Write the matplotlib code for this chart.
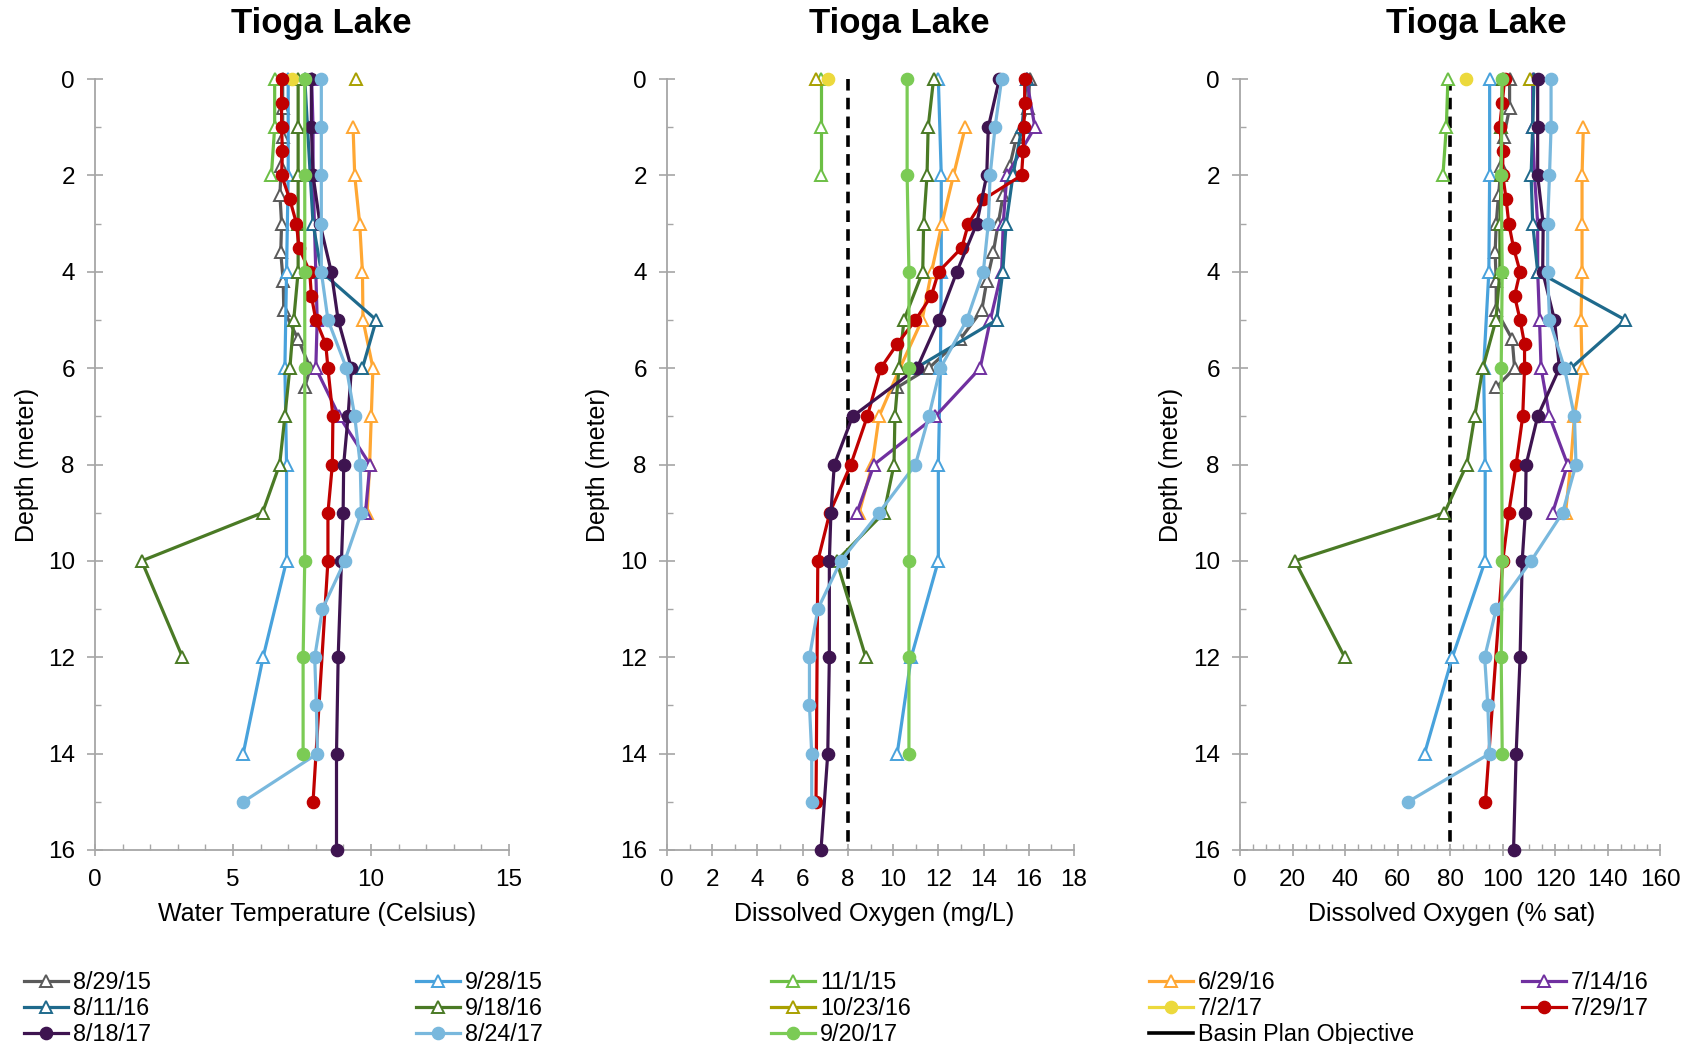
import matplotlib
matplotlib.use("Agg")
import matplotlib.pyplot as plt
from matplotlib.lines import Line2D
from matplotlib.ticker import MultipleLocator
import numpy as np

plt.rcParams['font.family'] = ['Liberation Sans', 'DejaVu Sans']

# survey dates, in legend order
dates = ['8/29/15', '9/28/15', '11/1/15', '6/29/16', '7/14/16', '8/11/16', '9/18/16',
         '10/23/16', '7/2/17', '7/29/17', '8/18/17', '8/24/17', '9/20/17']

# depth (m) of each profile point
depth = {
    '8/29/15': [0, 0.6, 1.2, 1.8, 2.4, 3.0, 3.6, 4.2, 4.8, 5.4, 6.0, 6.4],
    '9/28/15': [0, 2, 4, 6, 8, 10, 12, 14],
    '11/1/15': [0, 1, 2],
    '6/29/16': [1, 2, 3, 4, 5, 6, 7, 8, 9],
    '7/14/16': [0, 1, 2, 3, 4, 5, 6, 7, 8, 9],
    '8/11/16': [0, 1, 2, 3, 4, 5, 6],
    '9/18/16': [0, 1, 2, 3, 4, 5, 6, 7, 8, 9, 10, 12],
    '10/23/16': [0],
    '7/2/17': [0],
    '7/29/17': [0, 0.5, 1, 1.5, 2, 2.5, 3, 3.5, 4, 4.5, 5, 5.5, 6, 7, 8, 9, 10, 15],
    '8/18/17': [0, 1, 2, 3, 4, 5, 6, 7, 8, 9, 10, 12, 14, 16],
    '8/24/17': [0, 1, 2, 3, 4, 5, 6, 7, 8, 9, 10, 11, 12, 13, 14, 15],
    '9/20/17': [0, 2, 4, 6, 10, 12, 14],
}

# water temperature (C)
temp = {
    '8/29/15': [6.8, 6.8, 6.8, 6.75, 6.7, 6.76, 6.73, 6.82, 6.84, 7.36, 7.8, 7.6],
    '9/28/15': [7.0, 7.0, 6.94, 6.88, 6.94, 6.94, 6.09, 5.37],
    '11/1/15': [6.51, 6.51, 6.39],
    '6/29/16': [9.35, 9.41, 9.59, 9.69, 9.71, 10.07, 10.01, 9.95, 9.86],
    '7/14/16': [7.85, 7.9, 7.9, 7.95, 8.0, 8.05, 8.0, 8.85, 9.96, 9.8],
    '8/11/16': [7.6, 7.7, 7.8, 7.9, 8.2, 10.19, 9.69],
    '9/18/16': [7.36, 7.36, 7.36, 7.36, 7.36, 7.2, 7.06, 6.88, 6.69, 6.07, 1.69, 3.17],
    '10/23/16': [9.44],
    '7/2/17': [7.12],
    '7/29/17': [6.76, 6.76, 6.76, 6.79, 6.76, 7.06, 7.30, 7.39, 7.78, 7.84, 8.0, 8.36, 8.44,
                8.62, 8.60, 8.44, 8.44, 7.90],
    '8/18/17': [7.84, 7.84, 7.9, 8.15, 8.56, 8.81, 9.29, 9.17, 9.01, 8.99, 8.93, 8.81, 8.75, 8.75],
    '8/24/17': [8.2, 8.2, 8.2, 8.2, 8.2, 8.44, 9.11, 9.41, 9.61, 9.65, 9.05, 8.24, 7.96, 8.02,
                8.06, 5.37],
    '9/20/17': [7.6, 7.6, 7.6, 7.6, 7.6, 7.54, 7.54],
}

# dissolved oxygen (mg/L)
do_mg = {
    '8/29/15': [16.04, 15.97, 15.46, 15.16, 14.87, 14.65, 14.43, 14.14, 13.92, 12.97, 11.58, 10.18],
    '9/28/15': [12.0, 12.13, 12.13, 12.09, 12.0, 12.0, 10.8, 10.18],
    '11/1/15': [6.81, 6.81, 6.81],
    '6/29/16': [13.19, 12.67, 12.16, 11.7, 11.28, 10.3, 9.38, 9.08, 8.5],
    '7/14/16': [15.9, 16.27, 15.03, 14.87, 14.8, 14.3, 13.85, 11.87, 9.16, 8.4],
    '8/11/16': [15.9, 15.7, 15.3, 15.0, 14.85, 14.58, 11.0],
    '9/18/16': [11.79, 11.55, 11.5, 11.35, 11.31, 10.48, 10.26, 10.08, 10.04, 9.6, 7.5, 8.79],
    '10/23/16': [6.59],
    '7/2/17': [7.11],
    '7/29/17': [15.82, 15.82, 15.78, 15.75, 15.68, 13.99, 13.33, 13.04, 12.01, 11.69, 10.99,
                10.18, 9.45, 8.86, 8.13, 7.2, 6.67, 6.59],
    '8/18/17': [14.7, 14.21, 14.14, 13.70, 12.82, 12.01, 11.06, 8.21, 7.40, 7.25, 7.18, 7.18,
                7.11, 6.81],
    '8/24/17': [14.80, 14.51, 14.29, 14.21, 13.99, 13.26, 12.09, 11.58, 10.99, 9.38, 7.69, 6.67,
                6.30, 6.30, 6.40, 6.40],
    '9/20/17': [10.62, 10.62, 10.70, 10.70, 10.70, 10.70, 10.70],
}

# dissolved oxygen (% saturation)
do_sat = {
    '8/29/15': [102.7, 102.7, 100.5, 99.5, 98.5, 97.6, 97.2, 97.6, 97.6, 103.7, 104.6, 97.6],
    '9/28/15': [95.1, 95.1, 94.8, 92.8, 93.4, 93.4, 80.9, 70.3],
    '11/1/15': [79.2, 78.6, 77.3],
    '6/29/16': [130.8, 130.3, 130.3, 130.3, 129.9, 130.3, 127.4, 126.0, 124.0],
    '7/14/16': [111.5, 111.5, 112.2, 113.4, 113.4, 114.1, 114.7, 117.9, 124.8, 119.1],
    '8/11/16': [112.0, 111.5, 110.9, 111.5, 113.4, 146.8, 126.1],
    '9/18/16': [100.0, 99.5, 99.5, 99.0, 99.0, 97.5, 92.5, 89.4, 86.4, 77.9, 20.9, 39.9],
    '10/23/16': [110.5],
    '7/2/17': [86.2],
    '7/29/17': [100.8, 99.9, 98.9, 100.1, 100.1, 101.4, 102.4, 104.2, 106.7, 104.6, 106.7,
                108.4, 108.4, 107.7, 105.2, 102.4, 100.1, 93.5],
    '8/18/17': [113.4, 113.4, 113.4, 115.5, 115.3, 119.8, 121.7, 113.4, 109.0, 108.7, 107.5,
                106.7, 105.2, 104.2],
    '8/24/17': [118.5, 118.5, 117.9, 117.2, 117.2, 117.9, 123.6, 127.4, 128.0, 122.9, 110.9,
                97.6, 93.2, 94.4, 95.1, 64.0],
    '9/20/17': [99.9, 99.5, 99.9, 99.5, 99.9, 99.5, 99.9],
}

objective_mg = 8
objective_sat = 80

colors = {
    '8/29/15': '#5a5a5a', '9/28/15': '#48a2dc', '11/1/15': '#6cbf45', '6/29/16': '#ffa733',
    '7/14/16': '#7030a0', '8/11/16': '#1f6a8c', '9/18/16': '#4a7a25', '10/23/16': '#a9a000',
    '7/2/17': '#ecd93c', '7/29/17': '#c00000', '8/18/17': '#3e1450', '8/24/17': '#79b8dd',
    '9/20/17': '#7bcb55',
}
filled = {'7/2/17', '7/29/17', '8/18/17', '8/24/17', '9/20/17'}


def style(d):
    c = colors[d]
    if d in filled:
        return dict(color=c, marker='o', ms=8.8, mfc=c, mec=c)
    return dict(color=c, marker='^', ms=9, mfc='white', mec=c, mew=1.4)


fig = plt.figure(figsize=(16.96, 10.44), dpi=100)
W, H = 1696, 1044
gray = '#a6a6a6'
fs = 17.5


def make_ax(x0, x1, xmax, major, minor):
    ax = fig.add_axes([x0 / W, 1 - 850 / H, (x1 - x0) / W, 771 / H])
    ax.set_xlim(0, xmax)
    ax.set_ylim(16, 0)
    ax.xaxis.set_major_locator(MultipleLocator(major))
    ax.xaxis.set_minor_locator(MultipleLocator(minor))
    ax.yaxis.set_major_locator(MultipleLocator(2))
    ax.yaxis.set_minor_locator(MultipleLocator(1))
    for s in ['top', 'right']:
        ax.spines[s].set_visible(False)
    for s in ['left', 'bottom']:
        ax.spines[s].set_color(gray)
        ax.spines[s].set_linewidth(1.3)
    ax.tick_params(which='major', axis='y', direction='inout', length=11, width=1.2,
                   color=gray, labelsize=fs, pad=9)
    ax.tick_params(which='major', axis='x', direction='inout', length=8, width=1.2,
                   color=gray, labelsize=fs, pad=10)
    ax.tick_params(which='minor', direction='in', length=4, width=1.0, color=gray)
    ax.patch.set_alpha(0)
    return ax


ax1 = make_ax(95, 509, 15, 5, 1)
ax2 = make_ax(667, 1074, 18, 2, 1)
ax3 = make_ax(1240, 1660, 160, 20, 5)

ax2.plot([objective_mg, objective_mg], [0, 16], color='black', lw=2.6, ls=(0, (3.2, 2)),
         zorder=1, clip_on=False)
ax3.plot([objective_sat, objective_sat], [0, 16], color='black', lw=2.6, ls=(0, (3.2, 2)),
         zorder=1, clip_on=False)

for ax, data in [(ax1, temp), (ax2, do_mg), (ax3, do_sat)]:
    for i, d in enumerate(dates):
        ax.plot(data[d], depth[d], lw=2.3, clip_on=False, zorder=2 + i * 0.1, **style(d))

# titles and axis labels
for x in [321, 899, 1476]:
    fig.text(x / W, 1 - 24 / H, 'Tioga Lake', ha='center', va='center', fontsize=25,
             fontweight='bold')
for x in [27, 598, 1171]:
    fig.text(x / W, 1 - 465 / H, 'Depth (meter)', ha='center', va='center', fontsize=18,
             rotation=90)
for x, t in [(317, 'Water Temperature (Celsius)'), (874, 'Dissolved Oxygen (mg/L)'),
             (1452, 'Dissolved Oxygen (% sat)')]:
    fig.text(x / W, 1 - 914 / H, t, ha='center', va='center', fontsize=18)

# legend, laid out row by row in five columns
handles = [Line2D([], [], lw=2.3, **style(d)) for d in dates]
labels = list(dates)
handles.append(Line2D([], [], color='black', lw=2.6))
labels.append('Basin Plan Objective')

col_x = [24, 416, 771, 1149, 1522]
for c, x in enumerate(col_x):
    idx = list(range(c, len(labels), 5))
    fig.legend([handles[i] for i in idx], [labels[i] for i in idx], loc='upper left',
               bbox_to_anchor=(x / W, 1 - 971 / H), frameon=False, fontsize=16.8,
               handlelength=1.9, handletextpad=0.2, labelspacing=0.13, borderpad=0,
               borderaxespad=0)

fig.savefig('out.png', dpi=100)
